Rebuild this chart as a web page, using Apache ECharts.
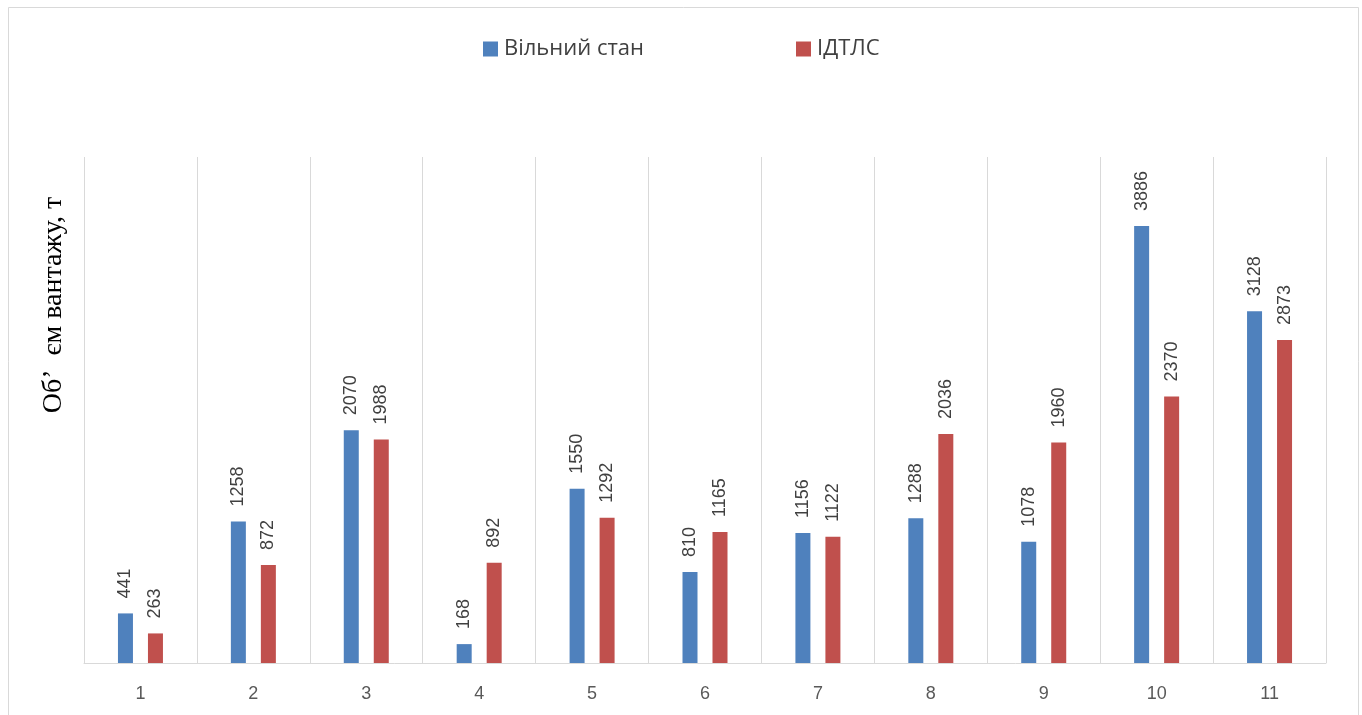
<!DOCTYPE html>
<html>
<head>
<meta charset="utf-8">
<style>
  html, body { margin: 0; padding: 0; background: #ffffff; }
  #chart { width: 1362px; height: 715px; }
</style>
<script src="https://cdn.jsdelivr.net/npm/echarts@6/dist/echarts.min.js"></script>
</head>
<body>
<div id="chart"></div>
<script>
// Cargo volume per object, two states
const categories = ['1', '2', '3', '4', '5', '6', '7', '8', '9', '10', '11'];
const freeState = [441, 1258, 2070, 168, 1550, 810, 1156, 1288, 1078, 3886, 3128];
const idtls = [263, 872, 1988, 892, 1292, 1165, 1122, 2036, 1960, 2370, 2873];
const seriesNames = ['Вільний стан', 'ІДТЛС'];
const yTitle = 'Об’  єм вантажу, т';

const chart = echarts.init(document.getElementById('chart'));

const labelStyle = {
  show: true,
  position: 'top',
  rotate: 90,
  align: 'left',
  verticalAlign: 'middle',
  distance: 15,
  fontFamily: 'Liberation Sans',
  fontSize: 18,
  color: '#404040'
};

const legendText = { fontFamily: 'Open Sans', fontSize: 22, color: '#404040', padding: [0, 0, 0, 1] };

chart.setOption({
  animation: false,
  backgroundColor: '#ffffff',
  grid: { left: 84, right: 36, top: 157, bottom: 52 },
  legend: [
    {
      data: [seriesNames[0]],
      left: 478, top: 33,
      itemWidth: 15, itemHeight: 15, icon: 'rect',
      textStyle: legendText
    },
    {
      data: [seriesNames[1]],
      left: 791, top: 33,
      itemWidth: 15, itemHeight: 15, icon: 'rect',
      textStyle: legendText
    }
  ],
  xAxis: {
    type: 'category',
    data: categories,
    boundaryGap: true,
    axisLine: { show: true, lineStyle: { color: '#d9d9d9', width: 1 } },
    axisTick: { show: false },
    axisLabel: {
      interval: 0,
      margin: 22,
      fontFamily: 'Liberation Sans',
      fontSize: 18,
      color: '#595959'
    },
    splitLine: { show: true, interval: 0, lineStyle: { color: '#d9d9d9', width: 1 } }
  },
  yAxis: {
    type: 'value',
    min: 0,
    max: 4500,
    interval: 500,
    axisLine: { show: false },
    axisTick: { show: false },
    axisLabel: { show: false },
    splitLine: { show: false }
  },
  series: [
    {
      name: seriesNames[0],
      type: 'bar',
      data: freeState,
      barWidth: 15,
      barGap: '100%',
      itemStyle: { color: '#4F81BD' },
      label: labelStyle
    },
    {
      name: seriesNames[1],
      type: 'bar',
      data: idtls,
      barWidth: 15,
      barGap: '100%',
      itemStyle: { color: '#C0504D' },
      label: labelStyle
    }
  ],
  graphic: [
    {
      type: 'rect',
      left: 6, top: 5,
      shape: { width: 1350, height: 720 },
      style: { fill: 'none', stroke: '#d9d9d9', lineWidth: 1 },
      silent: true
    },
    {
      type: 'text',
      x: 54, y: 305,
      rotation: Math.PI / 2,
      style: {
        text: yTitle,
        fontFamily: 'Liberation Serif',
        fontSize: 28,
        fill: '#000000',
        align: 'center',
        verticalAlign: 'middle'
      }
    }
  ]
});
</script>
</body>
</html>
